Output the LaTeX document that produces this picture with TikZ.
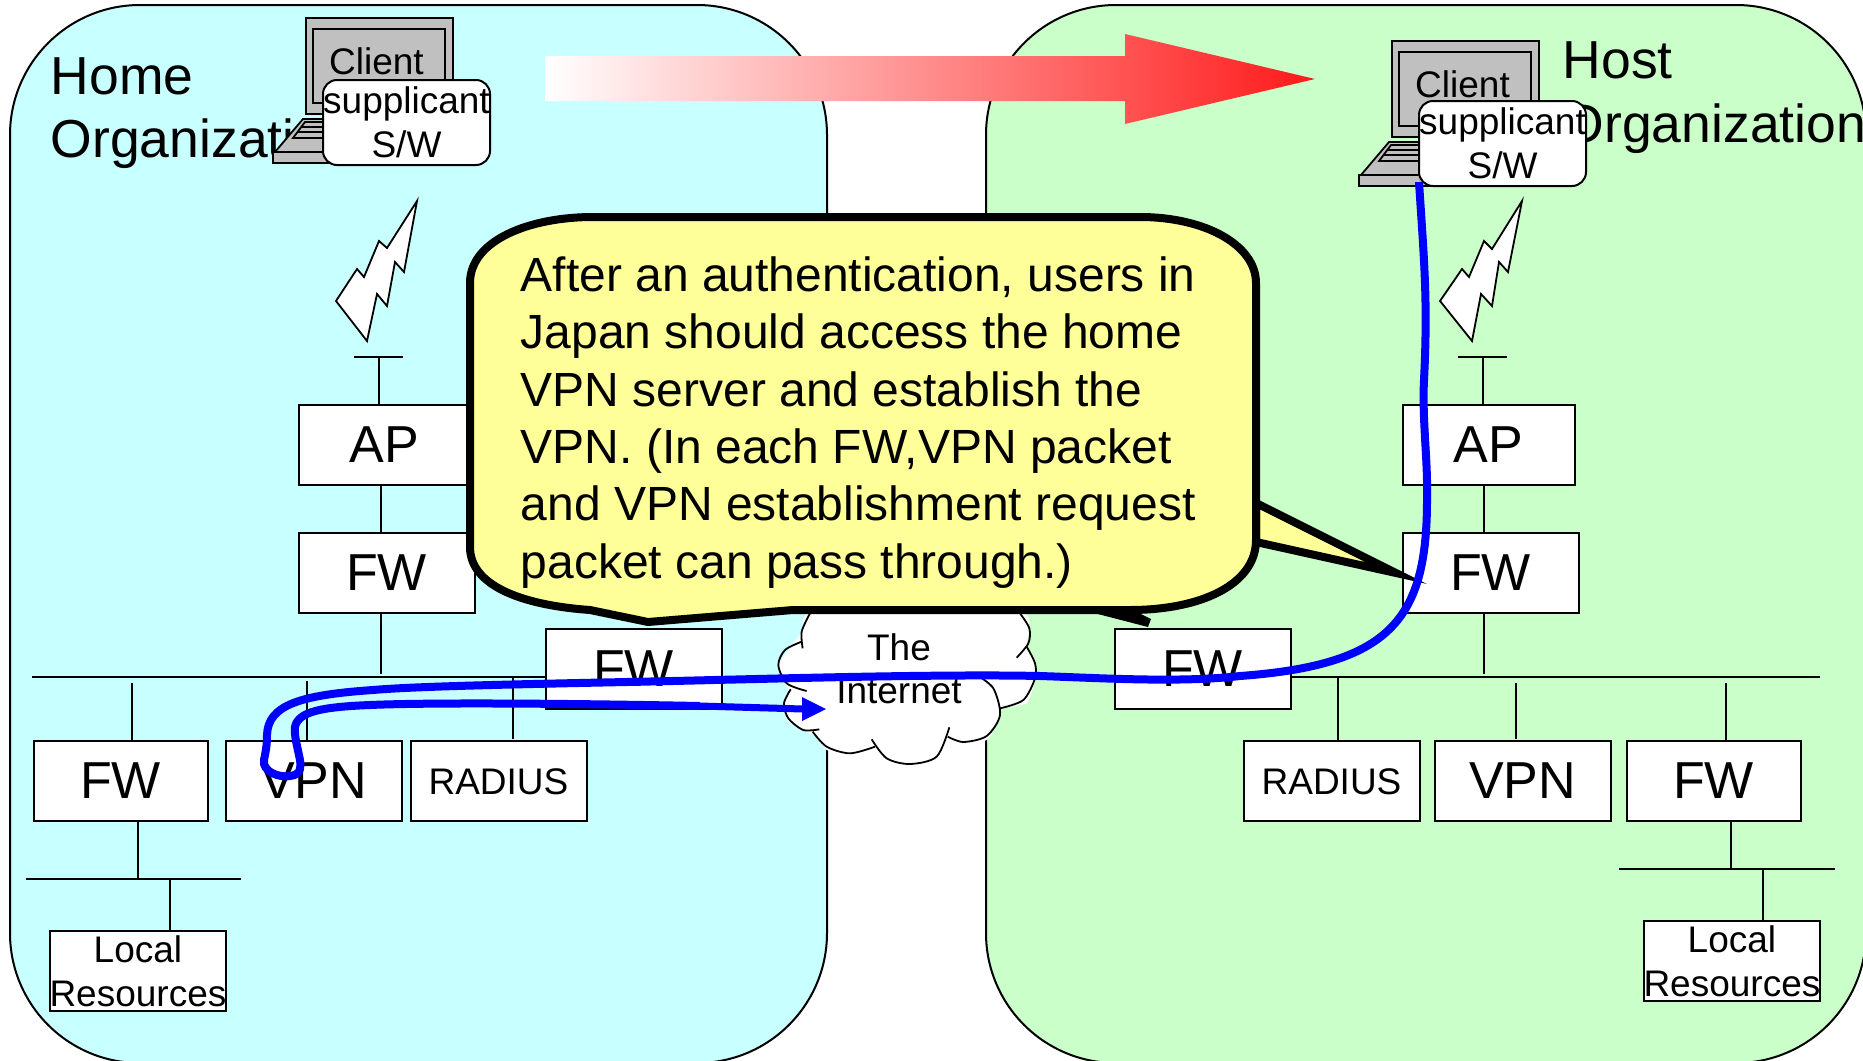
\documentclass[tikz,border=0pt]{standalone}
\usepackage{fontspec}
\setmainfont{Liberation Sans}
\usetikzlibrary{arrows.meta}
\definecolor{panelA}{HTML}{C8FFFF}
\definecolor{panelB}{HTML}{CAFFCA}
\definecolor{noteY}{HTML}{FFFF99}
\definecolor{lapG}{HTML}{C0C0C0}
\definecolor{pathB}{HTML}{0000FF}
\tikzset{
  panel/.style={draw=black,line width=2pt,rounded corners=130pt},
  wire/.style={draw=black,line width=1.8pt},
  bigbox/.style={draw=black,fill=white,line width=2pt,inner sep=0pt,outer sep=0pt,xshift=.5pt,anchor=north west,minimum width=#1,minimum height=80pt,font=\fontsize{52}{60}\selectfont,text height=35pt,text depth=0pt},
  bigbox/.default=176pt,
  smallbox/.style={draw=black,fill=white,line width=2pt,inner sep=0pt,outer sep=0pt,xshift=.5pt,anchor=north west,minimum width=175pt,minimum height=80pt,font=\fontsize{37}{44}\selectfont,align=center},
  radiusbox/.style={smallbox,minimum width=176pt,text height=26.5pt,text depth=0pt},
  swbox/.style={draw=black,fill=white,line width=2pt,inner sep=0pt,rounded corners=14pt,minimum width=167pt,minimum height=85pt,font=\fontsize{37}{44.5}\selectfont,align=center},
  orgtext/.style={inner sep=0pt,anchor=west,align=left,font=\fontsize{53.5}{63.5}\selectfont},
  bolt/.style={draw=black,fill=white,line width=1.8pt,line join=miter},
  blueline/.style={draw=pathB,line width=8pt},
  note/.style={draw=black,fill=noteY,line width=8pt,line join=miter},
  cloudarc/.style={draw=black,line width=1.8pt},
  pics/laptop/.style={code={
    \draw[fill=lapG,line width=1.8pt] (275,152) -- (303,119) -- (440,119) -- (460,152) -- cycle;
    \draw[fill=lapG,line width=1.8pt] (273,152) rectangle (460,163);
    \draw[fill=lapG,line width=1.8pt] (293,138) -- (305,122) -- (345,122) -- (345,138) -- cycle;
    \draw[line width=1.5pt] (301,127) -- (345,127) (297,132) -- (345,132);
    \draw[fill=lapG,line width=1.8pt] (306,18) rectangle (453,114);
    \draw[fill=lapG,line width=1.8pt] (313,29) rectangle (445,103);
    \node[anchor=base,inner sep=0pt,font=\fontsize{37}{44}\selectfont] (client) at (376.5,74.5) {Client};
  }}
}
\begin{document}
\begin{tikzpicture}[x=1pt,y=-1pt]
\useasboundingbox (0,0) rectangle (1863,1060);
\fill[white] (0,0) rectangle (1863,1060);
% panels
\draw[panel,fill=panelA] (10,5) rectangle (827,1063);
\draw[panel,fill=panelB] (986,5) rectangle (1866,1063);
\node[orgtext] (homeorg) at (50.5,113) {Home\\Organization};
\node[orgtext] (hostorg) at (1562.5,97.5) {Host\\Organization};
% gradient arrow
\shade[left color=white,middle color=red!42,right color=red!90] (545,56) -- (1125,56) -- (1125,34) -- (1315,79) -- (1125,124) -- (1125,101) -- (545,101) -- cycle;
% boxes
\node[bigbox=172pt] (apL) at (298,405) {AP};
\node[bigbox] (fwL) at (298,533) {FW};
\node[bigbox=172pt] (apR) at (1402,405) {AP};
\node[bigbox] (fwR) at (1402,533) {FW};
\node[bigbox] (fwCL) at (545,629) {FW};
\node[bigbox] (fwCR) at (1114,629) {FW};
\node[bigbox=174pt] (fwBL) at (33,741) {FW};
\node[bigbox] (vpnL) at (225,741) {VPN};
\node[radiusbox] (radL) at (410,741) {RADIUS};
\node[radiusbox] (radR) at (1243,741) {RADIUS};
\node[bigbox] (vpnR) at (1434,741) {VPN};
\node[bigbox=174pt] (fwBR) at (1626,741) {FW};
\node[smallbox] (locL) at (49,931) {Local\\Resources};
\node[smallbox] (locR) at (1643,921) {Local\\Resources};
% bus and stems
\coordinate (busA) at (32,677);
\coordinate (busB) at (1820,677);
\coordinate (s1) at (381,677);
\coordinate (s2) at (132,683);
\coordinate (s3) at (307,681);
\coordinate (s4) at (513,677);
\coordinate (s5) at (1338,677);
\coordinate (s6) at (1516,683);
\coordinate (s7) at (1726,683);
\coordinate (s8) at (1484,677);
\coordinate (antL) at (379,357);
\coordinate (antR) at (1483,357);
\coordinate (lanLa) at (26,879);
\coordinate (lanLb) at (241,879);
\coordinate (lanRa) at (1619,869);
\coordinate (lanRb) at (1835,869);
\coordinate (s9) at (138,879);
\coordinate (s10) at (170,879);
\coordinate (s11) at (1731,869);
\coordinate (s12) at (1763,869);
\draw[wire] (busA) -- (fwCL.west |- busA);
\draw[wire] (fwCL.east |- busA) -- (fwCR.west |- busA);
\draw[wire] (fwCR.east |- busA) -- (busB);
\draw[wire] (apL.south -| s1) -- (fwL.north -| s1);
\draw[wire] (fwL.south -| s1) -- (s1 |- 0,674);
\draw[wire] (s2) -- (fwBL.north -| s2);
\draw[wire] (s3) -- (vpnL.north -| s3);
\draw[wire] (s4) -- (s4 |- 0,739);
\draw[wire] (s5) -- (radR.north -| s5);
\draw[wire] (s6) -- (s6 |- 0,739);
\draw[wire] (s7) -- (fwBR.north -| s7);
\draw[wire] (apR.south -| s8) -- (fwR.north -| s8);
\draw[wire] (fwR.south -| s8) -- (s8 |- 0,674);
\draw[wire] (fwBL.south -| s9) -- (s9);
\draw[wire] (lanLa) -- (lanLb);
\draw[wire] (s10) -- (locL.north -| s10);
\draw[wire] (fwBR.south -| s11) -- (s11);
\draw[wire] (lanRa) -- (lanRb);
\draw[wire] (s12) -- (locR.north -| s12);
\draw[wire] (354,357) -- (403,357);
\draw[wire] (antL) -- (apL.north -| antL);
\draw[wire] (1458,357) -- (1507,357);
\draw[wire] (antR) -- (apR.north -| antR);
% lightning
\draw[bolt] (417,201) -- (387,248) -- (379,241) -- (364,277) -- (357,269) -- (336,301) -- (367,341) -- (377,294) -- (387,306) -- (395,262) -- (404,272) -- cycle;
\draw[bolt] (1522,201) -- (1492,249) -- (1484,241) -- (1469,277) -- (1462,269) -- (1440,301) -- (1472,341) -- (1481,294) -- (1492,306) -- (1499,262) -- (1508,272) -- cycle;
% cloud
\begin{scope}[shift={(760,590)},x=.33333pt,y=-.33333pt]
\fill[white] plot[smooth cycle,tension=.3] coordinates {(165,65) (127,125) (100,160) (55,225) (75,280) (85,300) (70,340) (85,395) (130,420) (170,440) (200,480) (270,490) (340,465) (380,515) (450,522) (540,500) (565,440) (610,458) (680,450) (720,385) (720,355) (800,340) (825,270) (825,220) (800,170) (806,115) (770,65)};
\draw[cloudarc] plot[smooth] coordinates {(150,70) (125,125) (128,175)};
\draw[cloudarc] plot[smooth] coordinates {(125,155) (75,180) (55,225) (80,280) (140,303)};
\draw[cloudarc] plot[smooth] coordinates {(92,298) (72,340) (85,385) (130,420) (178,418)};
\draw[cloudarc] plot[smooth] coordinates {(158,425) (200,470) (270,490) (345,470)};
\draw[cloudarc] plot[smooth] coordinates {(335,448) (380,505) (450,522) (530,500) (568,412)};
\draw[cloudarc] plot[smooth] coordinates {(563,440) (610,456) (680,438) (720,375) (700,295) (650,255)};
\draw[cloudarc] plot[smooth] coordinates {(720,355) (790,330) (825,265) (825,220) (800,170)};
\draw[cloudarc] plot[smooth] coordinates {(770,203) (805,160) (808,115) (780,70)};
\end{scope}
\node[inner sep=0pt,align=center,font=\fontsize{37}{43}\selectfont] (inet) at (899,669) {The\\Internet};
% callout
\draw[note] (1256,503) -- (1396,573) -- (1256,542) -- cycle;
\fill[black] (1090,612) -- (1137,612) -- (1151,619) -- (1148,627) -- cycle;
\draw[note] (470,283) .. controls (470,240) and (530,217) .. (593,217) -- (1140,217) .. controls (1205,217) and (1256,245) .. (1256,283) -- (1256,540) .. controls (1256,585) and (1200,610) .. (1130,610) -- (793,610) -- (648,622) -- (590,610) .. controls (520,605) and (470,585) .. (470,547) -- cycle;
\node[inner sep=0pt,anchor=west,align=left,font=\fontsize{48}{57.3}\selectfont] (notetext) at (520.5,422.5) {After an authentication, users in\\Japan should access the home\\VPN server and establish the\\VPN. (In each FW,VPN packet\\and VPN establishment request\\packet can pass through.)};
% laptops
\pic (lapL) at (0,0) {laptop};
\pic (lapR) at (1086,23) {laptop};
\node[swbox] (swL) at (406.5,122.5) {supplicant\\S/W};
% blue paths
\draw[blueline] (1419,182) .. controls (1424,260) and (1428,300) .. (1424,380) .. controls (1422,420) and (1428,460) .. (1427,500) .. controls (1427,620) and (1390,665) .. (1240,676) .. controls (1180,683) and (1100,678) .. (1040,676) .. controls (950,674) and (800,678) .. (714,680) .. controls (600,683) and (430,685) .. (373,690) .. controls (300,695) and (268,705) .. (267,735) .. controls (267,745) and (266,750) .. (264,760) .. controls (262,772) and (280,778) .. (290,776) .. controls (302,775) and (301,765) .. (300,760) .. controls (297,745) and (294,735) .. (295,727) .. controls (298,712) and (320,707) .. (370,705) .. controls (440,702) and (600,704) .. (700,706);
\draw[draw=pathB,line width=7pt] (700,706) -- (803,709);
\fill[pathB] (802,697) -- (826,709) -- (802,721) -- cycle;
\node[swbox] (swR) at (1502.5,143.5) {supplicant\\S/W};
\end{tikzpicture}
\end{document}
